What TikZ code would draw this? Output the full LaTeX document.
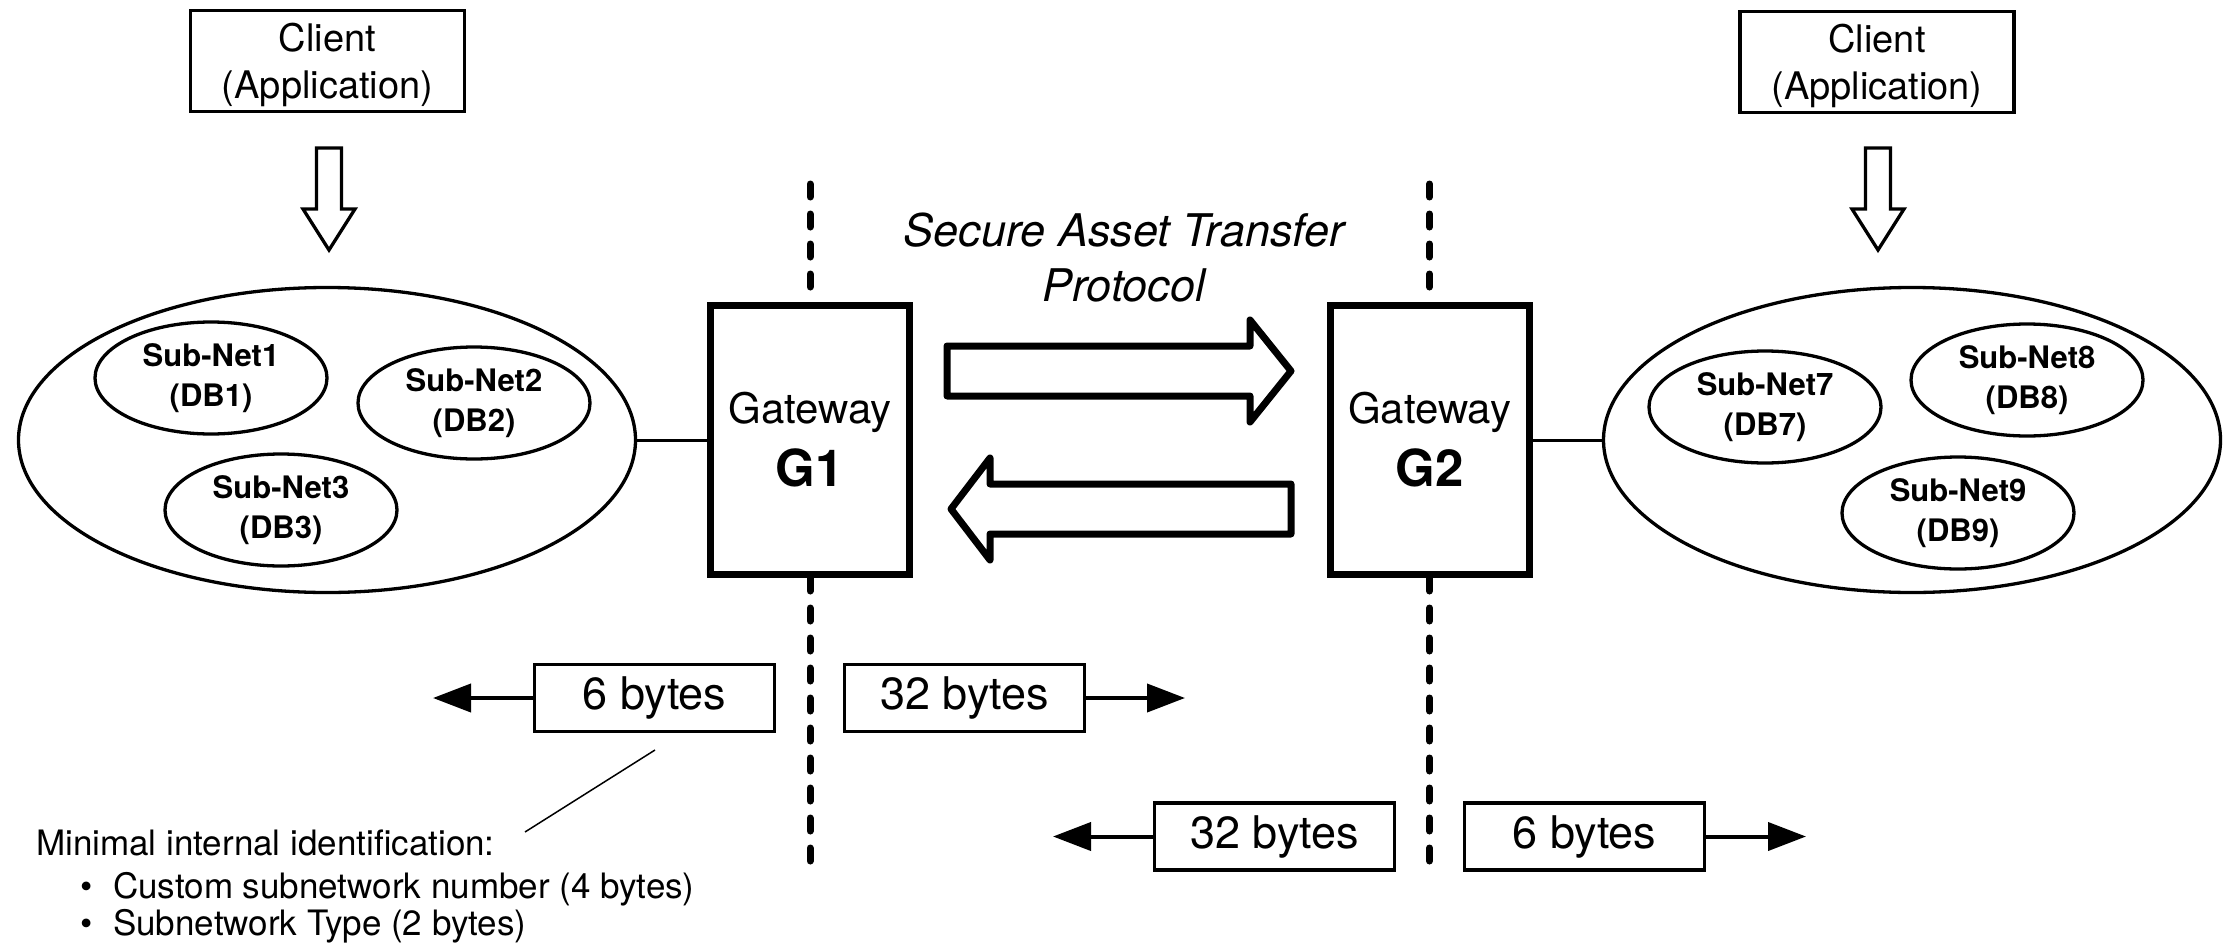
\documentclass[tikz,border=0pt]{standalone}
\usepackage{fontspec}
\setmainfont{TeX Gyre Heros}
\usetikzlibrary{arrows.meta,shapes.geometric}
\begin{document}
\begin{tikzpicture}[x=1pt,y=-1pt,
  thinbox/.style={draw,line width=3.3pt,inner sep=0pt},
  client/.style={thinbox,minimum width=274pt,minimum height=101pt,align=center,text depth=-6pt,font=\fontsize{38}{47}\selectfont},
  net/.style={draw,ellipse,line width=3.3pt,inner sep=0pt,minimum width=617pt,minimum height=305pt},
  sub/.style={draw,ellipse,line width=3.3pt,inner sep=0pt,minimum width=232pt,minimum height=112pt,align=center,font=\fontsize{31}{40}\selectfont\bfseries},
  gw/.style={draw,line width=7pt,inner sep=0pt,minimum width=199pt,minimum height=269pt,align=center,font=\fontsize{42}{63}\selectfont},
  bytes/.style={thinbox,minimum width=240pt,minimum height=67pt,font=\fontsize{45}{54}\selectfont},
  bytearrow/.style={line width=4pt,-{Triangle[length=38pt,width=28pt]}},
  link/.style={line width=3pt},
  border/.style={line width=7pt,line cap=round,dash pattern=on 13pt off 17pt},
  openarrow/.style={draw,line width=3.3pt,line join=miter,fill=white},
  blockarrow/.style={draw,line width=7pt,line join=round,fill=white},
  note/.style={font=\fontsize{35}{42}\selectfont,anchor=base west,inner sep=0pt}
]
\useasboundingbox (0,0) rectangle (2234,950);

% clients
\node[client] (cl1) at (327.5,61) {Client\\(Application)};
\node[client] (cl2) at (1877,62) {Client\\(Application)};

% open down arrows
\draw[openarrow] (316.5,148) -- (341.5,148) -- (341.5,209) -- (355,209) -- (329,250) -- (303,209) -- (316.5,209) -- cycle;
\draw[openarrow] (1865.5,148) -- (1890.5,148) -- (1890.5,209) -- (1904,209) -- (1878,250) -- (1852,209) -- (1865.5,209) -- cycle;

% networks
\node[net] (net1) at (327,440) {};
\node[net] (net2) at (1912,440) {};
\node[sub] (s1) at (211,378) {Sub-Net1\\(DB1)};
\node[sub] (s2) at (474,403) {Sub-Net2\\(DB2)};
\node[sub] (s3) at (281,510) {Sub-Net3\\(DB3)};
\node[sub] (s7) at (1765,407) {Sub-Net7\\(DB7)};
\node[sub] (s8) at (2027,380) {Sub-Net8\\(DB8)};
\node[sub] (s9) at (1958,513) {Sub-Net9\\(DB9)};

% gateways
\node[gw] (g1) at (810,440) {Gateway\\{\fontsize{51}{63}\selectfont\bfseries G1}};
\node[gw] (g2) at (1429.5,440) {Gateway\\{\fontsize{51}{63}\selectfont\bfseries G2}};

\draw[link] (net1.east) -- (g1.west);
\draw[link] (g2.east) -- (net2.west);

% dashed borders
\coordinate (d1t) at (810,184);
\coordinate (d1b) at (810,868);
\coordinate (d2t) at (1429.5,184);
\coordinate (d2b) at (1429.5,868);
\draw[border] (d1t) -- (g1.north);
\draw[border] (g1.south) -- (d1b);
\draw[border] (d2t) -- (g2.north);
\draw[border] (g2.south) -- (d2b);

% protocol label
\node[font=\fontsize{45}{55}\selectfont\itshape,align=center] (sat) at (1124,258) {Secure Asset Transfer\\Protocol};

% block arrows
\draw[blockarrow] (947,346) -- (1250,346) -- (1250,320) -- (1291,371) -- (1250,422) -- (1250,396) -- (947,396) -- cycle;
\draw[blockarrow] (1291,484) -- (990,484) -- (990,458) -- (951,509) -- (990,560) -- (990,534) -- (1291,534) -- cycle;

% byte boxes
\node[bytes] (b1) at (654.5,698) {6 bytes};
\node[bytes] (b2) at (964.5,698) {32 bytes};
\node[bytes] (b3) at (1274.5,836.5) {32 bytes};
\node[bytes] (b4) at (1584.5,836.5) {6 bytes};
\coordinate (t1) at (433,698);
\coordinate (t2) at (1185,698);
\coordinate (t3) at (1053,836.5);
\coordinate (t4) at (1806,836.5);
\draw[bytearrow] (b1.west) -- (t1);
\draw[bytearrow] (b2.east) -- (t2);
\draw[bytearrow] (b3.west) -- (t3);
\draw[bytearrow] (b4.east) -- (t4);

% note
\coordinate (c1) at (655,750);
\coordinate (c2) at (525,832);
\draw[line width=1.5pt] (c1) -- (c2);
\node[note] (n1) at (36,855) {Minimal internal identification:};
\node[note] (n2) at (80,898) {\makebox[33pt][l]{\textbullet}Custom subnetwork number (4 bytes)};
\node[note] (n3) at (80,935) {\makebox[33pt][l]{\textbullet}Subnetwork Type (2 bytes)};
\end{tikzpicture}
\end{document}
